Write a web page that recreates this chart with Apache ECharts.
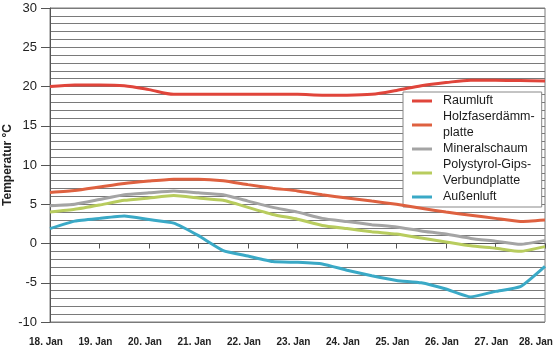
<!DOCTYPE html>
<html>
<head>
<meta charset="utf-8">
<script src="https://cdn.jsdelivr.net/npm/echarts@6/dist/echarts.min.js"></script>
<style>
html,body{margin:0;padding:0;background:#fff;}
#chart{width:559px;height:348px;}
</style>
</head>
<body>
<div id="chart"></div>
<script>
// X tick labels (one per day)
var dayLabels = ['18. Jan','19. Jan','20. Jan','21. Jan','22. Jan','23. Jan','24. Jan','25. Jan','26. Jan','27. Jan','28. Jan'];
// sample times in days after 18. Jan (half-day steps)
var times = [0,0.5,1,1.5,2,2.5,3,3.5,4,4.5,5,5.5,6,6.5,7,7.5,8,8.5,9,9.5,10];

var seriesNames = ['Raumluft','Holzfaserdämm-\nplatte','Mineralschaum','Polystyrol-Gips-\nVerbundplatte','Außenluft'];
var raumluft    = [20.0,20.2,20.2,20.1,19.6,19.0,19.0,19.0,19.0,19.0,19.0,18.9,18.9,19.0,19.5,20.1,20.5,20.8,20.8,20.75,20.7];
var holzfaser   = [6.5,6.75,7.2,7.65,7.95,8.2,8.2,8.0,7.5,7.05,6.7,6.2,5.8,5.4,5.0,4.5,4.0,3.6,3.2,2.8,3.0];
var mineral     = [4.8,5.0,5.6,6.2,6.45,6.7,6.45,6.2,5.4,4.6,4.0,3.2,2.8,2.4,2.1,1.6,1.2,0.65,0.3,-0.1,0.4];
var polystyrol  = [4.0,4.35,4.9,5.5,5.8,6.1,5.8,5.5,4.6,3.7,3.1,2.3,1.9,1.5,1.2,0.7,0.2,-0.3,-0.6,-1.0,-0.4];
var aussenluft  = [1.9,2.85,3.2,3.5,3.05,2.6,1.0,-0.9,-1.6,-2.3,-2.4,-2.6,-3.4,-4.1,-4.7,-5.0,-5.8,-6.8,-6.1,-5.5,-2.9];

var colors = ['#e0453b','#de6140','#a4a4a4','#b8cc5e','#3aa9c6'];
var values = [raumluft, holzfaser, mineral, polystyrol, aussenluft];

function pairs(arr){ return arr.map(function(v,i){ return [times[i], v]; }); }

var chart = echarts.init(document.getElementById('chart'), null, {renderer:'canvas'});
var series = values.map(function(arr, k){
  return {
    name: seriesNames[k],
    type: 'line',
    data: pairs(arr),
    showSymbol: false,
    smooth: k === 0 ? 0.3 : 0.15,
    lineStyle: {width: 3, color: colors[k]},
    itemStyle: {color: colors[k]},
    z: 10 - k
  };
});

chart.setOption({
  animation: false,
  backgroundColor: '#fff',
  grid: {left: 50, right: 14, top: 8, bottom: 26, containLabel: false, outerBoundsMode: 'none', show: true, borderColor: '#7a7a7a', borderWidth: 1, backgroundColor: 'transparent'},
  legend: {
    data: seriesNames.map(function(n,k){ return {name: n, icon: 'rect'}; }),
    orient: 'vertical',
    left: 403,
    top: 92,
    itemWidth: 20,
    itemHeight: 3,
    itemGap: 0,
    padding: [1, 7, 2, 9],
    backgroundColor: '#fff',
    borderColor: '#888',
    borderWidth: 1,
    borderRadius: 0,
    selectedMode: false,
    textStyle: {fontFamily: 'Liberation Sans, Arial, sans-serif', fontSize: 12.5, color: '#1a1a1a', lineHeight: 16, padding: [0,0,0,6]}
  },
  xAxis: {
    type: 'value',
    min: 0, max: 10, interval: 1,
    axisLine: {show: true, lineStyle: {color: '#555', width: 1}},
    axisTick: {show: true, length: 5, lineStyle: {color: '#555'}},
    splitLine: {show: false},
    axisLabel: {
      margin: 15,
      hideOverlap: false,
      fontFamily: 'Liberation Sans, Arial, sans-serif',
      fontSize: 10, fontWeight: 'bold', color: '#222',
      padding: [0, 8, 0, 0],
      formatter: function(v){ var i = Math.round(v); return i === dayLabels.length - 1 ? '{last|' + dayLabels[i] + '}' : dayLabels[i]; },
      rich: {last: {fontFamily: 'Liberation Sans, Arial, sans-serif', fontSize: 10, fontWeight: 'bold', color: '#222', padding: [0, 10, 0, 0]}}
    }
  },
  yAxis: {
    type: 'value',
    min: -10, max: 30, interval: 5,
    name: 'Temperatur °C',
    nameLocation: 'middle',
    nameGap: 36,
    nameMoveOverlap: false,
    nameTextStyle: {fontFamily: 'Liberation Sans, Arial, sans-serif', fontSize: 12, fontWeight: 'bold', color: '#222'},
    axisLine: {show: true, lineStyle: {color: '#555', width: 1}},
    axisTick: {show: true, length: 9, lineStyle: {color: '#555'}},
    axisLabel: {margin: 13, fontFamily: 'Liberation Sans, Arial, sans-serif', fontSize: 13, color: '#222'},
    splitLine: {show: true, lineStyle: {color: '#7a7a7a', width: 1}},
    minorTick: {show: false, splitNumber: 5},
    minorSplitLine: {show: true, lineStyle: {color: '#7a7a7a', width: 1}}
  },
  series: series
});
</script>
</body>
</html>
